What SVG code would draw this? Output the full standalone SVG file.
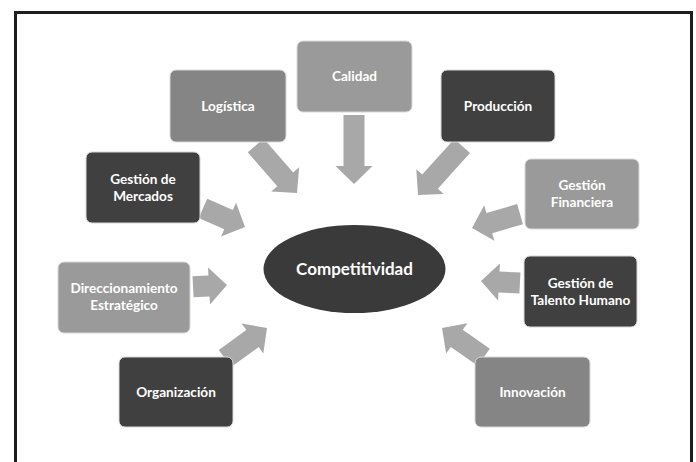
<svg xmlns="http://www.w3.org/2000/svg" width="696" height="462" viewBox="0 0 696 462">
<style>
.box{stroke:#d8d8d8;stroke-width:1}
.dark{fill:#404040}
.mid{fill:#858585}
.light{fill:#9a9a9a}
.lbl{font-family:Lato,"Open Sans","Liberation Sans",sans-serif;font-weight:bold;font-size:13.6px;fill:#ffffff;text-anchor:middle}
.arr{fill:#a8a8a8}
</style>
<rect width="696" height="462" fill="#ffffff"/>
<rect x="15.5" y="12.5" width="676" height="480" fill="none" stroke="#1e1e1e" stroke-width="3"/>
<g id="connectors">
<polygon class="arr" transform="translate(297,193) rotate(49)" points="-63,-10.5 -18,-10.5 -18,-18.5 0,0 -18,18.5 -18,10.5 -63,10.5"/>
<polygon class="arr" transform="translate(354,184) rotate(90)" points="-69,-10.5 -18,-10.5 -18,-18.5 0,0 -18,18.5 -18,10.5 -69,10.5"/>
<polygon class="arr" transform="translate(418,195) rotate(132)" points="-66,-10.5 -18,-10.5 -18,-18.5 0,0 -18,18.5 -18,10.5 -66,10.5"/>
<polygon class="arr" transform="translate(472,228) rotate(164)" points="-50,-10.5 -18,-10.5 -18,-18.5 0,0 -18,18.5 -18,10.5 -50,10.5"/>
<polygon class="arr" transform="translate(245,227) rotate(24)" points="-46,-10.5 -18,-10.5 -18,-18.5 0,0 -18,18.5 -18,10.5 -46,10.5"/>
<polygon class="arr" transform="translate(227,285) rotate(-3)" points="-34,-10.5 -18,-10.5 -18,-18.5 0,0 -18,18.5 -18,10.5 -34,10.5"/>
<polygon class="arr" transform="translate(267,328) rotate(-36)" points="-52,-10.5 -18,-10.5 -18,-18.5 0,0 -18,18.5 -18,10.5 -52,10.5"/>
<polygon class="arr" transform="translate(481,281) rotate(183)" points="-39,-10.5 -18,-10.5 -18,-18.5 0,0 -18,18.5 -18,10.5 -39,10.5"/>
<polygon class="arr" transform="translate(442,328) rotate(215)" points="-51,-10.5 -18,-10.5 -18,-18.5 0,0 -18,18.5 -18,10.5 -51,10.5"/>
</g>
<g id="competitividad">
<ellipse cx="354.5" cy="269" rx="91" ry="44" fill="#3a3a3a"/>
<text class="lbl" x="354.5" y="275" style="font-size:17px">Competitividad</text>
</g>
<g id="logistica">
<rect class="box mid" x="170" y="70" width="116" height="72" rx="6"/>
<text class="lbl" x="228" y="110.5">Logística</text>
</g>
<g id="calidad">
<rect class="box light" x="297" y="41" width="115" height="71" rx="6"/>
<text class="lbl" x="354.5" y="81">Calidad</text>
</g>
<g id="produccion">
<rect class="box dark" x="441" y="70" width="114" height="72" rx="6"/>
<text class="lbl" x="498" y="110.5">Producción</text>
</g>
<g id="gestion-financiera">
<rect class="box light" x="525" y="159" width="114" height="70" rx="6"/>
<text class="lbl" x="582" y="190">Gestión</text>
<text class="lbl" x="582" y="207">Financiera</text>
</g>
<g id="gestion-mercados">
<rect class="box dark" x="86" y="152" width="114" height="71" rx="6"/>
<text class="lbl" x="143" y="184">Gestión de</text>
<text class="lbl" x="143" y="201">Mercados</text>
</g>
<g id="direccionamiento">
<rect class="box light" x="58" y="262" width="132" height="71" rx="6"/>
<text class="lbl" x="124" y="293">Direccionamiento</text>
<text class="lbl" x="124" y="310">Estratégico</text>
</g>
<g id="organizacion">
<rect class="box dark" x="119" y="357" width="114" height="70" rx="6"/>
<text class="lbl" x="176" y="396.5">Organización</text>
</g>
<g id="talento-humano">
<rect class="box dark" x="524" y="256" width="113" height="71" rx="6"/>
<text class="lbl" x="580.5" y="287.5">Gestión de</text>
<text class="lbl" x="580.5" y="304.5">Talento Humano</text>
</g>
<g id="innovacion">
<rect class="box mid" x="475" y="357" width="115" height="70" rx="6"/>
<text class="lbl" x="532.5" y="396.5">Innovación</text>
</g>
</svg>
